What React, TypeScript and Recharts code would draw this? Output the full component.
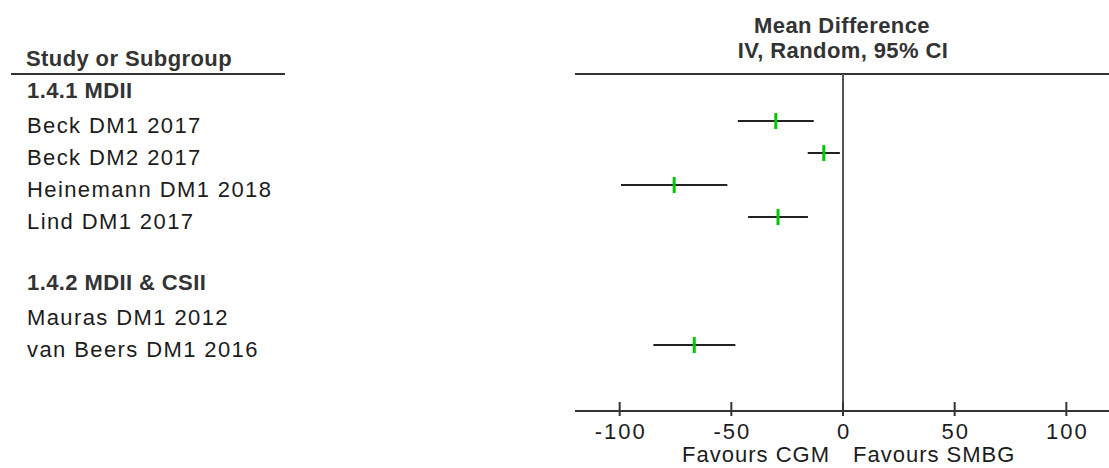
import React from 'react';
import { ScatterChart, Scatter, XAxis, YAxis, ErrorBar, ReferenceLine } from 'recharts';

const rowLabels = [
  '1.4.1 MDII',
  'Beck DM1 2017',
  'Beck DM2 2017',
  'Heinemann DM1 2018',
  'Lind DM1 2017',
  '',
  '1.4.2 MDII & CSII',
  'Mauras DM1 2012',
  'van Beers DM1 2016',
];
const headerRows = [true, false, false, false, false, false, true, false, false];
const meanDiff: (number | null)[] = [null, -30.1, -8.6, -75.6, -29.1, null, null, null, -66.6];
const ciLower: (number | null)[] = [null, -47.1, -15.8, -99.4, -42.5, null, null, null, -84.9];
const ciUpper: (number | null)[] = [null, -13.1, -1.4, -51.8, -15.7, null, null, null, -48.2];
const xTicks = [-100, -50, 0, 50, 100];
const xDomain = [-120, 120];
const leftLabel = 'Favours CGM';
const rightLabel = 'Favours SMBG';

const FONT = '"Liberation Sans", Arial, sans-serif';
const TEXT = '#1c1c1c';
const BOLD = '#333333';

const rows = rowLabels.map((label, i) => ({
  row: i,
  label,
  header: headerRows[i],
  mean: meanDiff[i],
  err:
    meanDiff[i] == null
      ? null
      : [(meanDiff[i] as number) - (ciLower[i] as number), (ciUpper[i] as number) - (meanDiff[i] as number)],
}));
const points = rows.filter((r) => r.mean != null);

const RowTick = (props: any) => {
  const { y, payload } = props;
  const r = rows[payload.value];
  if (!r || !r.label) return null;
  return (
    <text
      x={27}
      y={y + (r.header ? 9 : 11.5)}
      fontFamily={FONT}
      fontSize={22}
      fontWeight={r.header ? 'bold' : 'normal'}
      letterSpacing={r.header ? 0.4 : 1.4}
      fill={r.header ? BOLD : TEXT}
    >
      {r.label}
    </text>
  );
};

const XTick = (props: any) => {
  const { x, y, payload } = props;
  return (
    <g>
      <line x1={x} x2={x} y1={y - 9} y2={y + 5} stroke="#333" strokeWidth={2} />
      <text x={x + 1} y={y + 28} textAnchor="middle" fontFamily={FONT} fontSize={22} letterSpacing={2} fill={TEXT}>
        {String(payload.value)}
      </text>
    </g>
  );
};

const FavoursLabel = (props: any) => {
  const vb = props.viewBox || {};
  const cx = vb.x + vb.width / 2;
  const base = vb.y + 51;
  return (
    <g>
      <text x={cx - 13} y={base} textAnchor="end" fontFamily={FONT} fontSize={22} letterSpacing={1} fill={TEXT}>
        {leftLabel}
      </text>
      <text x={cx + 10} y={base} textAnchor="start" fontFamily={FONT} fontSize={22} letterSpacing={1} fill={TEXT}>
        {rightLabel}
      </text>
    </g>
  );
};

const GreenMark = (props: any) => {
  const { cx, cy } = props;
  if (cx == null || cy == null) return null;
  return <rect x={cx - 1.5} y={cy - 8} width={3} height={16} fill="#00c800" />;
};

const yDomain = [-0.47, 10.06];

export default function App() {
  return (
    <div
      style={{
        position: 'absolute',
        left: 0,
        top: 0,
        width: 1109,
        height: 468,
        overflow: 'hidden',
        background: '#fff',
        fontFamily: FONT,
      }}
    >
      <svg width={1109} height={80} style={{ position: 'absolute', left: 0, top: 0 }}>
        <text x={842} y={33} textAnchor="middle" fontFamily={FONT} fontSize={22} fontWeight="bold" letterSpacing={0.4} fill={BOLD}>
          Mean Difference
        </text>
        <text x={843} y={58} textAnchor="middle" fontFamily={FONT} fontSize={22} fontWeight="bold" letterSpacing={0.4} fill={BOLD}>
          IV, Random, 95% CI
        </text>
        <text x={26} y={66} fontFamily={FONT} fontSize={22} fontWeight="bold" letterSpacing={0.4} fill={BOLD}>
          Study or Subgroup
        </text>
        <line x1={11} x2={285} y1={74} y2={74} stroke="#333" strokeWidth={2} />
      </svg>
      <div style={{ position: 'absolute', left: 0, top: 0 }}>
        <ScatterChart width={1112} height={468} margin={{ top: 74, right: 1, bottom: 0, left: 0 }}>
          <XAxis
            type="number"
            dataKey="mean"
            domain={xDomain}
            ticks={xTicks}
            allowDataOverflow
            height={57}
            tickSize={0}
            tickMargin={0}
            tickLine={false}
            axisLine={{ stroke: '#333', strokeWidth: 2 }}
            tick={<XTick />}
            interval={0}
            label={{ content: <FavoursLabel /> } as any}
          />
          <YAxis
            type="number"
            dataKey="row"
            domain={yDomain}
            reversed
            allowDataOverflow
            ticks={rowLabels.map((_, i) => i)}
            interval={0}
            width={575}
            axisLine={false}
            tickLine={false}
            tick={<RowTick />}
          />
          <ReferenceLine y={yDomain[0]} stroke="#333" strokeWidth={2} />
          <ReferenceLine x={0} stroke="#555" strokeWidth={2} />
          <Scatter data={points} isAnimationActive={false} shape={<GreenMark />}>
            <ErrorBar dataKey="err" direction="x" width={0} stroke="#222" strokeWidth={2} isAnimationActive={false} />
          </Scatter>
        </ScatterChart>
      </div>
    </div>
  );
}
